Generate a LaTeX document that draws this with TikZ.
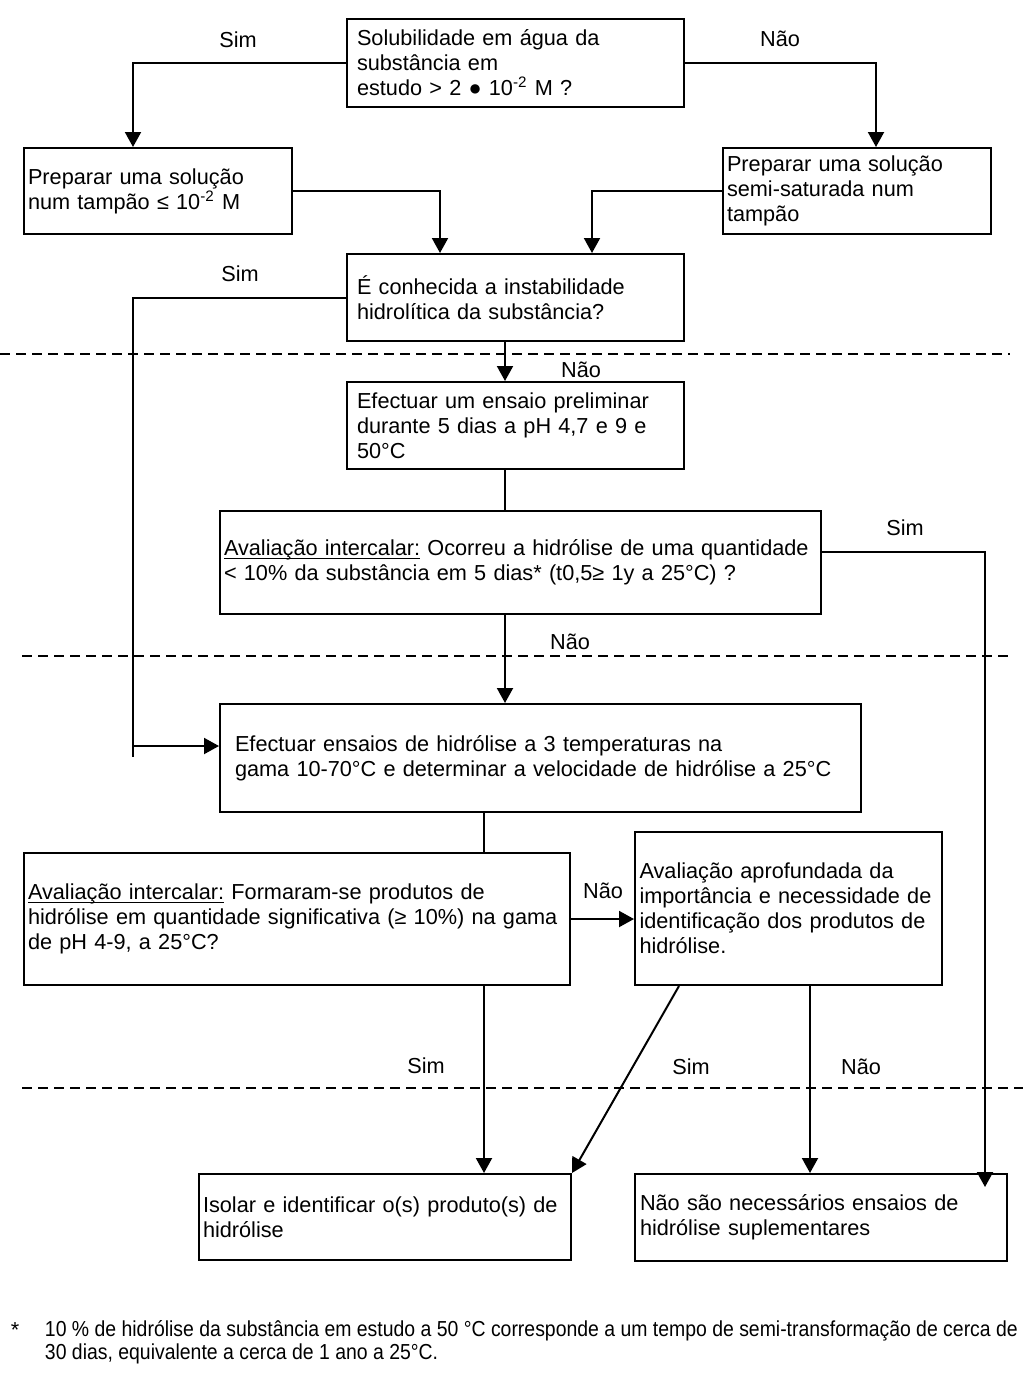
\documentclass[tikz,border=0pt]{standalone}
\usepackage{fontspec}
\setmainfont{Liberation Sans}
\newfontfamily\narrowfont[FakeStretch=0.895]{Liberation Sans}
\usetikzlibrary{arrows.meta}
\newsavebox\ulbox
\newcommand\ulin[1]{\sbox\ulbox{#1}\rlap{\rule[-1.6pt]{\wd\ulbox}{0.55pt}}\usebox\ulbox}

\begin{document}
\begin{tikzpicture}[x=0.5pt,y=-0.5pt,>={Triangle[length=7.5pt,width=8pt]},line width=1pt,
font=\fontsize{10.85}{12.5}\selectfont,
box/.style={draw,align=left,inner ysep=2pt},
lbl/.style={inner sep=0pt},
sep/.style={dashed,line width=0.8pt,dash pattern=on 5pt off 3pt}]
\useasboundingbox (0,0) rectangle (1023,1378);
% boxes
\node[box,text width=158.5pt,inner xsep=5pt,minimum height=44pt](sol) at (515.5,63)
  {Solubilidade em água da\\substância em\\estudo > 2 ● 10\textsuperscript{-2} M ?};
\node[box,text width=130pt,inner xsep=2pt,minimum height=43pt](tampao) at (158,191)
  {Preparar uma solução\\num tampão ≤ 10\textsuperscript{-2} M};
\node[box,text width=130pt,inner xsep=2pt,minimum height=43pt](semi) at (857,191)
  {Preparar uma solução\\semi-saturada num\\tampão};
\node[box,text width=158.5pt,inner xsep=5pt,minimum height=43.5pt](conh) at (515.5,297.5)
  {É conhecida a instabilidade\\hidrolítica da substância?};
\node[box,text width=158.5pt,inner xsep=5pt,minimum height=43.5pt](prelim) at (515.5,425.5)
  {Efectuar um ensaio preliminar\\durante 5 dias a pH 4,7 e 9 e\\50°C};
\node[box,text width=296.5pt,inner xsep=2pt,minimum height=51.5pt](aval1) at (520.5,562.5)
  {\ulin{Avaliação intercalar:} Ocorreu a hidrólise de uma quantidade\\< 10\% da substância em 5 dias* (t0,5≥ 1y a 25°C) ?};
\node[box,text width=305.5pt,inner xsep=7.5pt,minimum height=54pt](ensaio) at (540.5,758)
  {Efectuar ensaios de hidrólise a 3 temperaturas na\\gama 10-70°C e determinar a velocidade de hidrólise a 25°C};
\node[box,text width=269pt,inner xsep=2pt,minimum height=66pt](aval2) at (297,919)
  {\ulin{Avaliação intercalar:} Formaram-se produtos de\\hidrólise em quantidade significativa (≥ 10\%) na gama\\de pH 4-9, a 25°C?};
\node[box,text width=149pt,inner xsep=2.25pt,minimum height=76.5pt](aprof) at (788.5,908.5)
  {Avaliação aprofundada da\\importância e necessidade de\\identificação dos produtos de\\hidrólise.};
\node[box,text width=182pt,inner xsep=2pt,minimum height=43pt](isolar) at (385,1217)
  {Isolar e identificar o(s) produto(s) de\\hidrólise};
\node[box,text width=181pt,inner xsep=2.5pt,minimum height=43.5pt](naonec) at (821,1217.5)
  {Não são necessários ensaios de\\hidrólise suplementares};
% labels
\node[lbl](s1) at (238,40){Sim};
\node[lbl](n1) at (780,39){Não};
\node[lbl](s2) at (240,274){Sim};
\node[lbl](n2) at (581,370){Não};
\node[lbl](s3) at (905,528){Sim};
\node[lbl](n3) at (570,642){Não};
\node[lbl](n4) at (603,891){Não};
\node[lbl](s4) at (426,1066){Sim};
\node[lbl](s5) at (691,1067){Sim};
\node[lbl](n5) at (861,1067){Não};
% separators
\draw[sep](0,354)--(1010,354);
\draw[sep](22,656)--(1010,656);
\draw[sep](22,1088)--(1023,1088);
% connectors
\draw[->](sol.west)-|(tampao.north -| 133,0);
\draw[->](sol.east)-|(semi.north -| 876,0);
\draw[->](tampao.east)-|(conh.north -| 440,0);
\draw[->](semi.west)-|(conh.north -| 592,0);
\draw[->](conh.west)-|(133,746)--(ensaio.west |- 133,746);
\draw(133,746)--(133,757);
\draw[->](conh.south -| 505,0)--(prelim.north -| 505,0);
\draw(prelim.south -| 505,0)--(aval1.north -| 505,0);
\draw[->,shorten >=-7pt](aval1.east |- 0,552)-|(naonec.north -| 985,0);
\draw[->](aval1.south -| 505,0)--(ensaio.north -| 505,0);
\draw(ensaio.south -| 484,0)--(aval2.north -| 484,0);
\draw[->](aval2.east)--(aprof.west |- aval2.east);
\draw[->](aval2.south -| 484,0)--(isolar.north -| 484,0);
\draw[->](aprof.south -| 679,0)--(isolar.north east);
\draw[->](aprof.south -| 810,0)--(naonec.north -| 810,0);
% footnote
\node[lbl](ast) at (15,1330){*};
\node[lbl,anchor=north west,align=left,font=\narrowfont\fontsize{10.85}{11.5}\selectfont](nota) at (44,1320)
  {10 \% de hidrólise da substância em estudo a 50 °C corresponde a um tempo de semi-transformação de cerca de\\30 dias, equivalente a cerca de 1 ano a 25°C.};
\end{tikzpicture}
\end{document}
